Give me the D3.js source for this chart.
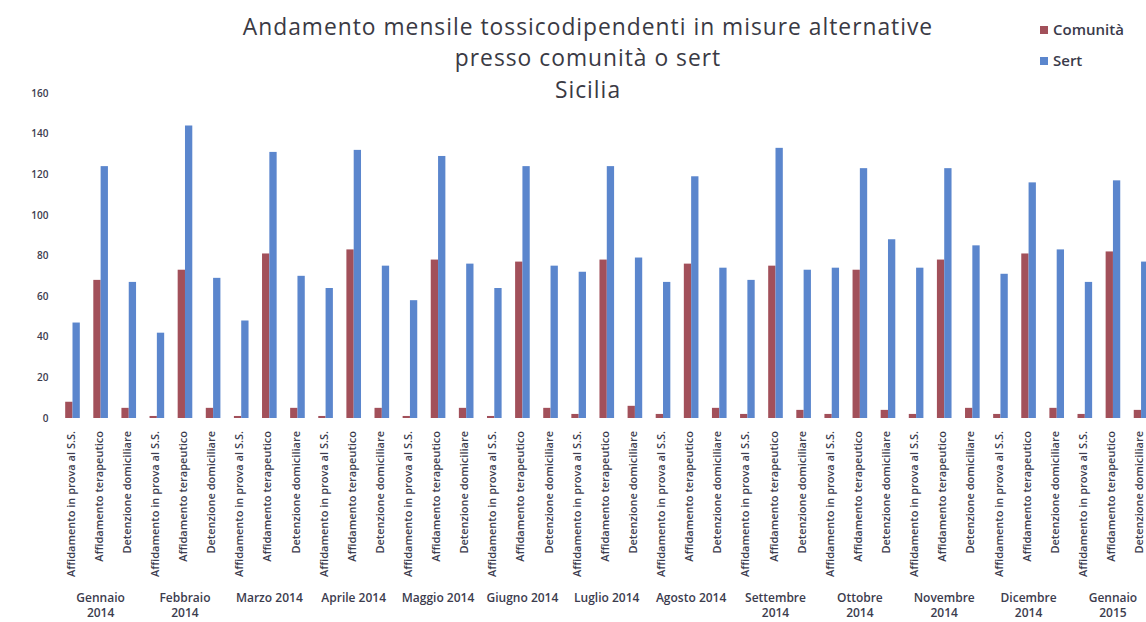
<!DOCTYPE html>
<html><head><meta charset="utf-8">
<script src="https://cdn.jsdelivr.net/npm/d3@7"></script>
<style>html,body{margin:0;padding:0;background:#fff;overflow:hidden}</style>
</head><body><svg id="c" width="1146" height="622"></svg>
<script>
const months = ["Gennaio 2014","Febbraio 2014","Marzo 2014","Aprile 2014","Maggio 2014","Giugno 2014","Luglio 2014","Agosto 2014","Settembre 2014","Ottobre 2014","Novembre 2014","Dicembre 2014","Gennaio 2015"];
const monthLines = [["Gennaio","2014"],["Febbraio","2014"],["Marzo 2014"],["Aprile 2014"],["Maggio 2014"],["Giugno 2014"],["Luglio 2014"],["Agosto 2014"],["Settembre","2014"],["Ottobre","2014"],["Novembre","2014"],["Dicembre","2014"],["Gennaio","2015"]];
const measures = ["Affidamento in prova al S.S.","Affidamento terapeutico","Detenzione domiciliare"];
const seriesNames = ["Comunità","Sert"];
// values per month: [prova, terapeutico, detenzione]
const comunita = [8,68,5, 1,73,5, 1,81,5, 1,83,5, 1,78,5, 1,77,5, 2,78,6, 2,76,5, 2,75,4, 2,73,4, 2,78,5, 2,81,5, 2,82,4];
const sert =     [47,124,67, 42,144,69, 48,131,70, 64,132,75, 58,129,76, 64,124,75, 72,124,79, 67,119,74, 68,133,73, 74,123,88, 74,123,85, 71,116,83, 67,117,77];
const yTicks = [0,20,40,60,80,100,120,140,160];
const titleLines = ["Andamento mensile tossicodipendenti in misure alternative","presso comunità o sert","Sicilia"];

const svg = d3.select("#c");
const colors = ["#a2505a","#5b86cd"];
const textCol = "#3c3c4e";
const step = 28.12, plotLeft = 72.5 - step/2, plotTop = 93, plotBottom = 418;
const cats = [];
months.forEach((m,mi)=>measures.forEach((me,ci)=>cats.push({key:mi*3+ci, month:mi, measure:me})));
const x0 = d3.scaleBand().domain(cats.map(d=>d.key)).range([plotLeft, plotLeft+step*cats.length]).paddingInner(0.48).paddingOuter(0.24);
const x1 = d3.scaleBand().domain(seriesNames).range([0, x0.bandwidth()]).padding(0);
const y = d3.scaleLinear().domain([0,160]).range([plotBottom, plotTop]);

// y axis
const yAxis = d3.axisLeft(y).tickValues(yTicks).tickSize(0).tickPadding(10);
const ya = svg.append("g").attr("transform", `translate(${plotLeft},0)`).call(yAxis);
ya.select(".domain").remove();
ya.selectAll("text").attr("font-family","Open Sans, sans-serif").attr("font-size",10).attr("fill",textCol).attr("font-weight","600");

// bars
const g = svg.append("g");
cats.forEach((c,i)=>{
  const vals = [comunita[i], sert[i]];
  g.selectAll(null).data(seriesNames).join("rect")
    .attr("x", s=>x0(c.key)+x1(s))
    .attr("width", x1.bandwidth())
    .attr("y", (s,si)=>y(vals[si]))
    .attr("height", (s,si)=>y(0)-y(vals[si]))
    .attr("fill", (s,si)=>colors[si]);
});

// category labels (rotated)
const xAxis = d3.axisBottom(x0).tickSize(0).tickFormat(k=>cats[k].measure);
const xa = svg.append("g").attr("transform", `translate(0,${plotBottom})`).call(xAxis);
xa.select(".domain").remove();
xa.selectAll("text")
  .attr("font-family","Open Sans, sans-serif").attr("font-size",11).attr("font-weight","600").attr("fill",textCol)
  .attr("text-anchor","end").attr("transform","rotate(-90)")
  .attr("x",-13).attr("y",-1.8).attr("dy","0.35em");

// month labels
const mg = svg.append("g");
monthLines.forEach((lines,mi)=>{
  const cx = x0(mi*3+1) + x0.bandwidth()/2;
  const t = mg.append("text").attr("x",cx).attr("y", 602).attr("text-anchor","middle")
    .attr("font-family","Open Sans, sans-serif").attr("font-size",12).attr("font-weight","600").attr("fill",textCol);
  lines.forEach((l,li)=>t.append("tspan").attr("x",cx).attr("dy", li===0?0:15).text(l));
});

// title
svg.append("g").selectAll("text").data(titleLines).join("text")
  .attr("x",588).attr("y",(d,i)=>34.5+i*31.5).attr("text-anchor","middle")
  .attr("font-family","Open Sans, sans-serif").attr("font-size",22.8).attr("letter-spacing","1px")
  .attr("fill","#3a3a44").text(d=>d);

// legend
const lg = svg.append("g").attr("transform","translate(1040,0)");
seriesNames.forEach((s,i)=>{
  lg.append("rect").attr("x",0).attr("y",26+i*31).attr("width",8).attr("height",8).attr("fill",colors[i]);
  lg.append("text").attr("x",13).attr("y",35+i*31).attr("font-family","Open Sans, sans-serif")
    .attr("font-size",15).attr("font-weight","600").attr("fill","#3a3a4a").text(s);
});
</script>
</body></html>
